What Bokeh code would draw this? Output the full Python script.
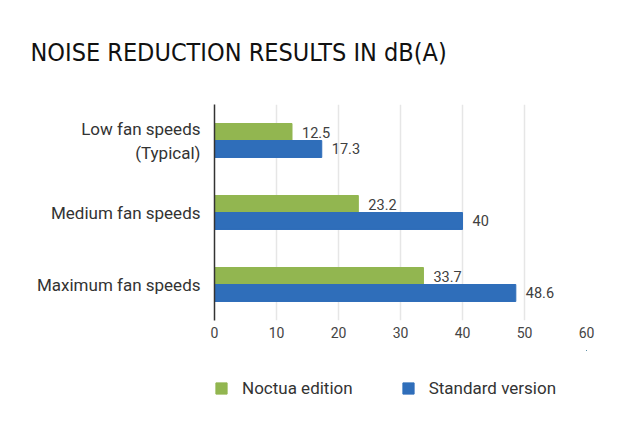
from bokeh.plotting import figure
from bokeh.layouts import column
from bokeh.models import ColumnDataSource, FactorRange, Legend, LegendItem, Title, Range1d
from bokeh.transform import dodge
from bokeh.core.properties import value
from bokeh.embed import file_html
from bokeh.resources import INLINE

categories = ["Low fan speeds\n(Typical)", "Medium fan speeds", "Maximum fan speeds"]
noctua = [12.5, 23.2, 33.7]
standard = [17.3, 40, 48.6]
series_names = ["Noctua edition", "Standard version"]
x_ticks = [0, 10, 20, 30, 40, 50, 60]

GREEN = "#92B650"
BLUE = "#2F6EBA"
FONT = "Roboto"

src = ColumnDataSource(dict(
    cat=categories,
    noctua=noctua,
    standard=standard,
    noctua_lbl=[f"{v:g}" for v in noctua],
    standard_lbl=[f"{v:g}" for v in standard],
))

p = figure(
    y_range=FactorRange(factors=list(reversed(categories))),
    x_range=(0, 60),
    width=616, height=350,
    min_border_left=214, min_border_right=30,
    min_border_top=104, min_border_bottom=30,
    output_backend="svg", toolbar_location=None,
)
p.title = None
t = Title(text="NOISE REDUCTION RESULTS IN dB(A)", text_font="DejaVu Sans Condensed",
          text_font_size="25px", text_font_style="normal", text_color="#111111",
          offset=-184, standoff=72, vertical_align="top")
p.add_layout(t, "above")

bh = 0.236
r1 = p.hbar(y=dodge("cat", bh / 2, range=p.y_range), right="noctua", left=0,
            height=bh, color=GREEN, source=src)
r2 = p.hbar(y=dodge("cat", -bh / 2, range=p.y_range), right="standard", left=0,
            height=bh, color=BLUE, source=src)

p.text(x="noctua", y=dodge("cat", bh / 2, range=p.y_range), text="noctua_lbl",
       source=src, x_offset=10, text_baseline="middle", text_font=value(FONT),
       text_font_size="14.5px", text_color="#404040")
p.text(x="standard", y=dodge("cat", -bh / 2, range=p.y_range), text="standard_lbl",
       source=src, x_offset=10, text_baseline="middle", text_font=value(FONT),
       text_font_size="14.5px", text_color="#404040")

p.outline_line_color = None
p.ygrid.grid_line_color = None
p.xgrid.grid_line_color = "#e6e6e6"
p.xgrid.grid_line_width = 1.5
p.xaxis.ticker = x_ticks
p.xaxis.axis_line_color = None
p.xaxis.major_tick_line_color = None
p.xaxis.minor_tick_line_color = None
p.xaxis.major_label_text_font = FONT
p.xaxis.major_label_text_font_size = "14px"
p.xaxis.major_label_text_color = "#444444"
p.xaxis.major_label_standoff = 0

p.yaxis.axis_line_color = "#333333"
p.yaxis.axis_line_width = 1.5
p.yaxis.major_tick_line_color = None
p.yaxis.minor_tick_line_color = None
p.yaxis.major_label_text_font = FONT
p.yaxis.major_label_text_font_size = "17px"
p.yaxis.major_label_text_color = "#333333"
p.yaxis.major_label_standoff = 8

# legend strip below the chart (its bars lie outside its own view)
lg = figure(width=616, height=60, x_axis_type=None, y_axis_type=None,
            x_range=Range1d(-200, -199), y_range=Range1d(-200, -199),
            min_border=0, output_backend="svg", toolbar_location=None)
lg.outline_line_color = None
g1 = lg.hbar(y="noctua", right="noctua", left=0, height=0.5, color=GREEN, source=src)
g2 = lg.hbar(y="standard", right="standard", left=0, height=0.5, color=BLUE, source=src)
legend = Legend(items=[LegendItem(label=series_names[0], renderers=[g1]),
                       LegendItem(label=series_names[1], renderers=[g2])],
                orientation="horizontal", location=(0, 12),
                border_line_color=None, background_fill_alpha=0,
                glyph_width=14, glyph_height=14, label_standoff=14, spacing=48,
                label_text_font=FONT, label_text_font_size="17px",
                label_text_color="#333333", margin=0, padding=0)
lg.add_layout(legend, "center")

layout = column(p, lg, spacing=0)
open("out.html", "w").write(file_html(layout, INLINE))
